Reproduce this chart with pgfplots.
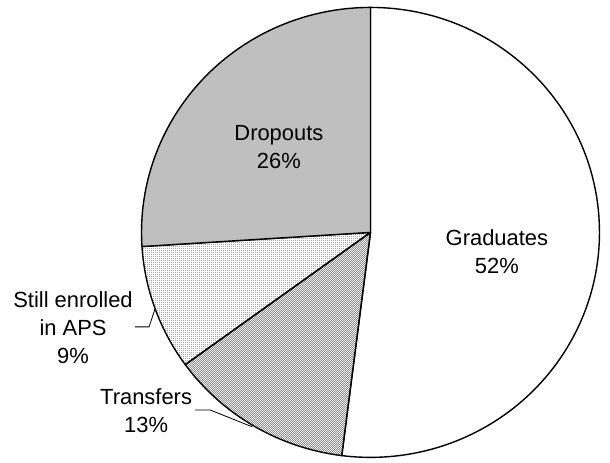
\documentclass[border=0pt]{standalone}
\usepackage{fontspec}
\setmainfont{Liberation Sans}
\usepackage{pgfplots}
\pgfplotsset{compat=1.18}
\usepackage{pgfplotstable}
\usetikzlibrary{patterns.meta}

\tikzdeclarepattern{
  name=checker, type=uncolored,
  bottom left={(0,0)}, top right={(2bp,2bp)}, tile size={(2bp,2bp)},
  code={\fill (0,0) rectangle (1bp,1bp); \fill (1bp,1bp) rectangle (2bp,2bp);}
}
\tikzdeclarepattern{
  name=sparse, type=uncolored,
  bottom left={(0,0)}, top right={(2bp,2bp)}, tile size={(2bp,2bp)},
  code={\fill (0,0) rectangle (1bp,1bp);}
}

% share of each group, clockwise from 12 o'clock
\pgfplotstableread{
group pct
Graduates 52
Transfers 13
Enrolled 9
Dropouts 26
}\piedata

\tikzset{
  slice0/.style={fill=white},
  slice1/.style={fill=white, pattern={checker}, pattern color=black!45},
  slice2/.style={fill=white, pattern={sparse}, pattern color=black!35},
  slice3/.style={fill=black!25},
  lbl/.style={align=center, font=\fontsize{22}{28}\selectfont},
}

\begin{document}
\begin{tikzpicture}
\begin{axis}[
  hide axis, scale only axis, clip=false,
  x=229bp, y=225bp,
  xmin=-1.618, xmax=1.046, ymin=-1.011, ymax=1.033,
]
\path (axis cs:-1.618,-1.011) rectangle (axis cs:1.046,1.033);
\pgfplotsextra{%
  \gdef\startang{90}%
  \pgfplotstablegetrowsof{\piedata}%
  \pgfmathtruncatemacro\last{\pgfplotsretval-1}%
  \foreach \i in {0,...,\last}{%
    \pgfplotstablegetelem{\i}{pct}\of\piedata
    \pgfmathsetmacro\endang{\startang-3.6*\pgfplotsretval}%
    \filldraw[slice\i, draw=black, line width=1.4bp, line join=round]
      (axis cs:0,0) -- (axis cs:{cos(\startang)},{sin(\startang)})
      arc[start angle=\startang, end angle=\endang, x radius=229bp, y radius=225bp] -- cycle;
    \xdef\startang{\endang}%
  }%
}
\draw[line width=0.8bp] (axis cs:-1.028,-0.42) -- (axis cs:-0.967,-0.42) -- (axis cs:-0.941,-0.34);
\draw[line width=0.8bp] (axis cs:-0.766,-0.789) -- (axis cs:-0.701,-0.789) -- (axis cs:-0.517,-0.864);
\node[lbl] at (axis cs:0.552,-0.087) {Graduates\\52\%};
\node[lbl] at (axis cs:-0.400,0.380) {Dropouts\\26\%};
\node[lbl] at (axis cs:-1.299,-0.424) {Still enrolled\\in APS\\9\%};
\node[lbl] at (axis cs:-0.980,-0.793) {Transfers\\13\%};
\end{axis}
\end{tikzpicture}
\end{document}
